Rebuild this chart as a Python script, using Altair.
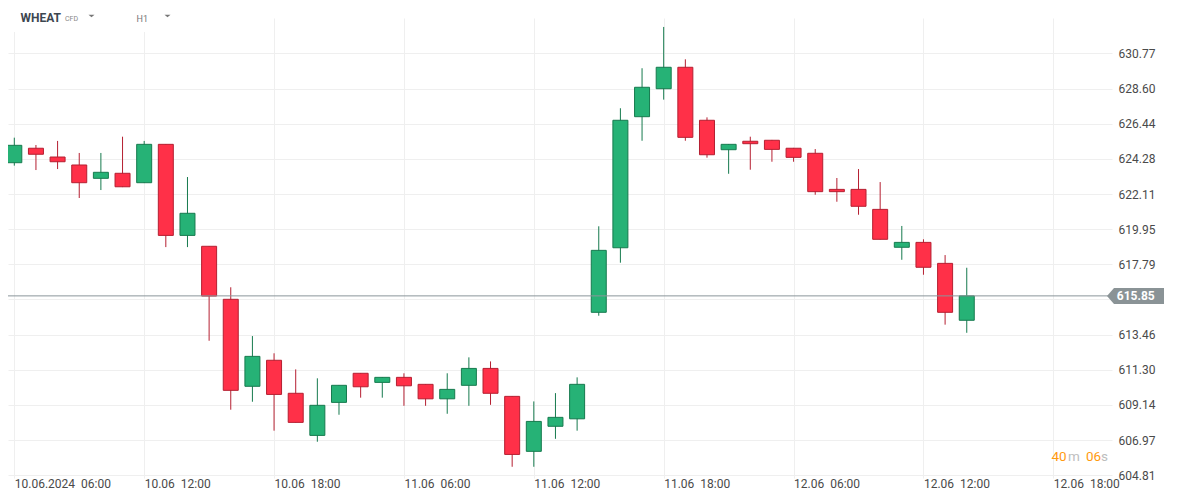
import json
import pandas as pd
import altair as alt

# ---- data (H1 candles, 10.06 06:00 .. 12.06 ~14:00) ----
opens = [624.04, 624.93, 624.39, 623.90, 623.08, 623.39, 622.81, 625.17, 619.57, 618.90,
         615.64, 610.29, 611.89, 609.86, 607.27, 609.30, 611.09, 610.53, 610.84, 610.41,
         609.52, 610.35, 611.39, 609.67, 606.29, 607.83, 608.29, 614.84, 618.81, 626.87,
         628.59, 629.91, 626.65, 624.84, 625.36, 625.42, 624.93, 624.62, 622.40, 622.40,
         621.17, 618.84, 619.14, 617.85, 614.35]
highs = [625.58, 625.13, 625.38, 624.64, 624.64, 625.64, 625.38, 625.19, 623.16, 618.91,
         616.38, 613.38, 612.32, 611.33, 610.78, 610.37, 611.10, 610.86, 611.09, 610.43,
         611.09, 612.07, 611.82, 609.69, 609.36, 609.87, 610.84, 620.13, 627.39, 629.85,
         632.39, 630.40, 626.83, 625.19, 625.64, 625.44, 624.95, 624.88, 623.10, 623.65,
         622.85, 620.15, 619.33, 618.36, 617.58]
lows = [623.86, 623.59, 623.65, 621.87, 622.36, 622.54, 622.79, 618.85, 618.85, 613.09,
        608.85, 609.34, 607.56, 608.06, 606.88, 608.54, 609.59, 609.59, 609.09, 609.09,
        608.60, 609.09, 609.15, 605.34, 605.34, 607.06, 607.56, 614.63, 617.89, 625.39,
        627.92, 625.39, 624.35, 623.36, 623.61, 624.10, 624.10, 622.07, 621.64, 620.84,
        619.32, 618.07, 617.15, 614.08, 613.58]
closes = [625.11, 624.56, 624.10, 622.81, 623.45, 622.56, 625.17, 619.57, 620.93, 615.84,
          610.04, 612.13, 609.79, 608.07, 609.12, 610.35, 610.26, 610.84, 610.32, 609.52,
          610.10, 611.39, 609.86, 606.10, 608.13, 608.38, 610.41, 618.65, 626.65, 628.68,
          629.91, 625.60, 624.53, 625.17, 625.21, 624.86, 624.37, 622.26, 622.26, 621.36,
          619.33, 619.14, 617.61, 614.84, 615.85]

x_tick_idx = [0, 6, 12, 18, 24, 30, 36, 42, 48]
NB = "\u00a0\u00a0"
x_tick_labels = ["10.06.2024" + NB + "06:00", "10.06" + NB + "12:00", "10.06" + NB + "18:00",
                 "11.06" + NB + "06:00", "11.06" + NB + "12:00", "11.06" + NB + "18:00",
                 "12.06" + NB + "06:00", "12.06" + NB + "12:00", "12.06" + NB + "18:00"]
y_ticks = [604.81, 606.97, 609.14, 611.30, 613.46, 615.63, 617.79, 619.95, 622.11,
           624.28, 626.44, 628.60, 630.77]
hidden_y_label = 615.63
last_price = 615.85
symbol = "WHEAT"
symbol_kind = "CFD"
timeframe = "H1"
timer_parts = [("40", "#ff9a0f"), ("m", "#bdbdbd"), ("06", "#ff9a0f"), ("s", "#bdbdbd")]

# ---- styling ----
GREEN_FILL, GREEN_LINE = "#26b276", "#167a4e"
RED_FILL, RED_LINE = "#ff3048", "#b51f31"
GRID = "#efefef"
LABEL = "#4a4a4a"
PRICE = "#8a969b"
W, H = 1104, 460

df = pd.DataFrame({"idx": list(range(len(opens))), "open": opens, "high": highs,
                   "low": lows, "close": closes})
one = pd.DataFrame({"k": [0]})

xscale = alt.Scale(domain=[-0.291, 50.71], nice=False, zero=False, padding=0)
yscale = alt.Scale(domain=[604.65, 632.94], nice=False, zero=False, padding=0)

x_expr = "''"
for v, lab in reversed(list(zip(x_tick_idx, x_tick_labels))):
    x_expr = f"datum.value == {v} ? {json.dumps(lab, ensure_ascii=False)} : ({x_expr})"

xaxis = alt.Axis(values=x_tick_idx, labelExpr=x_expr, grid=True, gridColor=GRID,
                 domain=False, ticks=False, tickSize=0, labelAlign="left",
                 labelBaseline="top", labelPadding=0, labelFontSize=12,
                 labelColor=LABEL, labelFlush=False, labelOverlap=False, title="")
yaxis = alt.Axis(orient="right", values=y_ticks,
                 labelExpr=f"abs(datum.value - {hidden_y_label}) < 0.001 ? '' : format(datum.value, '.2f')",
                 grid=True, gridColor=GRID, domain=False, ticks=False, tickSize=0,
                 labelPadding=6, labelFontSize=12, labelColor=LABEL,
                 labelFlush=False, labelOverlap=False, title="")

up = alt.datum.close >= alt.datum.open

wicks = alt.Chart(df).mark_rule(strokeWidth=1).encode(
    x=alt.X("idx:Q", scale=xscale, axis=xaxis),
    y=alt.Y("low:Q", scale=yscale, axis=yaxis),
    y2="high:Q",
    color=alt.when(up).then(alt.value(GREEN_LINE)).otherwise(alt.value(RED_LINE)),
)

bodies = alt.Chart(df).mark_bar(size=15, strokeWidth=1).encode(
    x=alt.X("idx:Q", scale=xscale, axis=xaxis),
    y=alt.Y("open:Q", scale=yscale, axis=yaxis),
    y2="close:Q",
    fill=alt.when(up).then(alt.value(GREEN_FILL)).otherwise(alt.value(RED_FILL)),
    stroke=alt.when(up).then(alt.value(GREEN_LINE)).otherwise(alt.value(RED_LINE)),
)

price_y = alt.YDatum(last_price, type="quantitative", scale=yscale, axis=yaxis)

price_line = alt.Chart(one).mark_rule(color=PRICE, strokeWidth=1).encode(y=price_y)

TAG_PATH = "M-1,0 L-0.754,-0.281 L1,-0.281 L1,0.281 L-0.754,0.281 Z"
tag = alt.Chart(one).mark_point(shape=TAG_PATH, size=3249, filled=True,
                                color="#8a9396", opacity=1, strokeWidth=0).encode(
    x=alt.value(1127.5), y=price_y)
tag_text = alt.Chart(one).mark_text(text=f"{last_price:.2f}", color="white", fontSize=12,
                                    fontWeight="bold", align="center",
                                    baseline="middle").encode(x=alt.value(1127.8), y=price_y)

header_bg = alt.Chart(one).mark_rect(color="white").encode(
    x=alt.value(0), x2=alt.value(182), y=alt.value(-10), y2=alt.value(14))
t_symbol = alt.Chart(one).mark_text(text=symbol, fontSize=12, fontWeight="bold",
                                    color="#3c4650", align="left",
                                    baseline="alphabetic").encode(x=alt.value(12.5), y=alt.value(4))
t_kind = alt.Chart(one).mark_text(text=symbol_kind, fontSize=7, color="#888888", align="left",
                                  baseline="alphabetic").encode(x=alt.value(57), y=alt.value(2.7))
t_tf = alt.Chart(one).mark_text(text=timeframe, fontSize=9, color="#777777", align="left",
                                baseline="alphabetic").encode(x=alt.value(128.5), y=alt.value(4))
TRI = "M-1,-0.4 L1,-0.4 L0,0.4 Z"
tri1 = alt.Chart(one).mark_point(shape=TRI, size=36, filled=True, color="#777777",
                                 opacity=1, strokeWidth=0).encode(x=alt.value(83.5), y=alt.value(-2))
tri2 = alt.Chart(one).mark_point(shape=TRI, size=36, filled=True, color="#777777",
                                 opacity=1, strokeWidth=0).encode(x=alt.value(159.5), y=alt.value(-2))

timer_x = [1043.5, 1060, 1078, 1093]
timer_layers = []
for (txt, col), xx in zip(timer_parts, timer_x):
    timer_layers.append(
        alt.Chart(one).mark_text(text=txt, fontSize=13.5, color=col, align="left",
                                 baseline="alphabetic").encode(x=alt.value(xx), y=alt.value(442.7)))

chart = alt.layer(
    wicks, bodies, price_line, tag, tag_text, header_bg, t_symbol, t_kind, t_tf, tri1, tri2,
    *timer_layers,
).properties(
    width=W, height=H,
    padding={"left": 0, "top": 10, "right": 56, "bottom": 12},
    autosize=alt.AutoSizeParams(type="none"),
).configure(font="Roboto").configure_view(strokeWidth=0)

chart.save("out.html", embed_options={"renderer": "svg", "actions": False})
